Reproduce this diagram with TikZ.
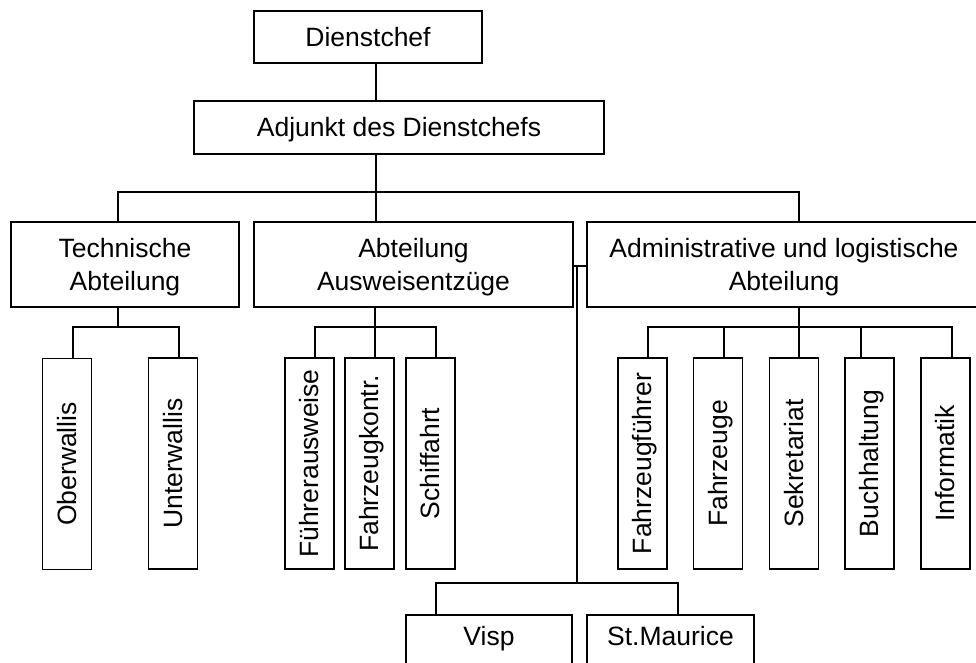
\documentclass[tikz,border=0pt]{standalone}
\usepackage{fontspec}
\setmainfont{Liberation Sans}
\newcommand\stt{\rule[-0.212em]{0pt}{1.117em}}
\begin{document}
\begin{tikzpicture}[x=1pt,y=-1pt,
  box/.style={draw, line width=1.8pt, inner sep=0pt, align=center,
    font=\fontsize{26.5}{33}\selectfont},
  vbox/.style={box, rotate=90, minimum width=211pt, minimum height=49pt},
  conn/.style={line width=1.8pt, line join=miter}]
\useasboundingbox (0,0) rectangle (976,662);
\clip (0,0) rectangle (976,662);
% top level
\node[box, minimum width=228pt, minimum height=52pt] (chef) at (368,37) {\stt Dienstchef};
\node[box, minimum width=410pt, minimum height=53pt] (adj) at (399,127.5) {\stt Adjunkt des Dienstchefs};
% departments
\node[box, minimum width=228pt, minimum height=85pt] (tech) at (125,264.5) {\stt Technische\\\stt Abteilung};
\node[box, minimum width=319pt, minimum height=85pt] (ausw) at (413.5,264.5) {\stt Abteilung\\\stt Ausweisentzüge};
\node[box, minimum width=394pt, minimum height=85pt] (admin) at (784,264.5) {\stt Administrative und logistische\\\stt Abteilung};
% vertical boxes
\node[vbox] (obw) at (67,464) {\stt Oberwallis};
\node[vbox] (unw) at (173,463.5) {\stt Unterwallis};
\node[vbox] (fuehr) at (309.5,463.5) {\stt Führerausweise};
\node[vbox] (fzk) at (369.5,463.5) {\stt Fahrzeugkontr.};
\node[vbox] (schiff) at (430.5,463.5) {\stt Schiffahrt};
\node[vbox] (fzf) at (642.5,463.5) {\stt Fahrzeugführer};
\node[vbox] (fzg) at (718,463.5) {\stt Fahrzeuge};
\node[vbox] (sek) at (794,463.5) {\stt Sekretariat};
\node[vbox] (buch) at (869.5,463.5) {\stt Buchhaltung};
\node[vbox] (info) at (945.5,463.5) {\stt Informatik};
% bottom boxes
\node[box, anchor=north, minimum width=166pt, text height=31pt, text depth=31pt] (visp) at (489,614) {Visp};
\node[box, anchor=north, minimum width=167pt, text height=31pt, text depth=31pt] (stm) at (670.5,614) {St.Maurice};
% junction coordinates
\coordinate (mid) at (376,192);
\coordinate (bl) at (118,192);
\coordinate (br) at (799,192);
\coordinate (ts) at (118,327);
\coordinate (tsl) at (73,327);
\coordinate (tsr) at (179,327);
\coordinate (as) at (375,327);
\coordinate (asl) at (315,327);
\coordinate (asr) at (436,327);
\coordinate (ds) at (799,327);
\coordinate (dsl) at (648,327);
\coordinate (dsa) at (724,327);
\coordinate (dsb) at (861,327);
\coordinate (dsr) at (952,327);
\coordinate (st) at (577,266);
\coordinate (vb) at (577,583);
\coordinate (vbl) at (436,583);
\coordinate (vbr) at (678,583);
% connectors
\draw[conn] (chef.south -| mid) -- (adj.north -| mid);
\draw[conn] (adj.south -| mid) -- (ausw.north -| mid);
\draw[conn] (tech.north -| bl) -- (bl) -- (br) -- (admin.north -| br);
% technical
\draw[conn] (tech.south -| ts) -- (ts);
\draw[conn] (obw.east -| tsl) -- (tsl) -- (tsr) -- (unw.east -| tsr);
% ausweis
\draw[conn] (ausw.south -| as) -- (fzk.east -| as);
\draw[conn] (fuehr.east -| asl) -- (asl) -- (asr) -- (schiff.east -| asr);
% admin
\draw[conn] (admin.south -| ds) -- (sek.east -| ds);
\draw[conn] (fzf.east -| dsl) -- (dsl) -- (dsr) -- (info.east -| dsr);
\draw[conn] (dsa) -- (fzg.east -| dsa);
\draw[conn] (dsb) -- (buch.east -| dsb);
% regional offices
\draw[conn] (ausw.east |- st) -- (admin.west |- st);
\draw[conn] (st) -- (vb);
\draw[conn] (visp.north -| vbl) -- (vbl) -- (vbr) -- (stm.north -| vbr);
\end{tikzpicture}
\end{document}
